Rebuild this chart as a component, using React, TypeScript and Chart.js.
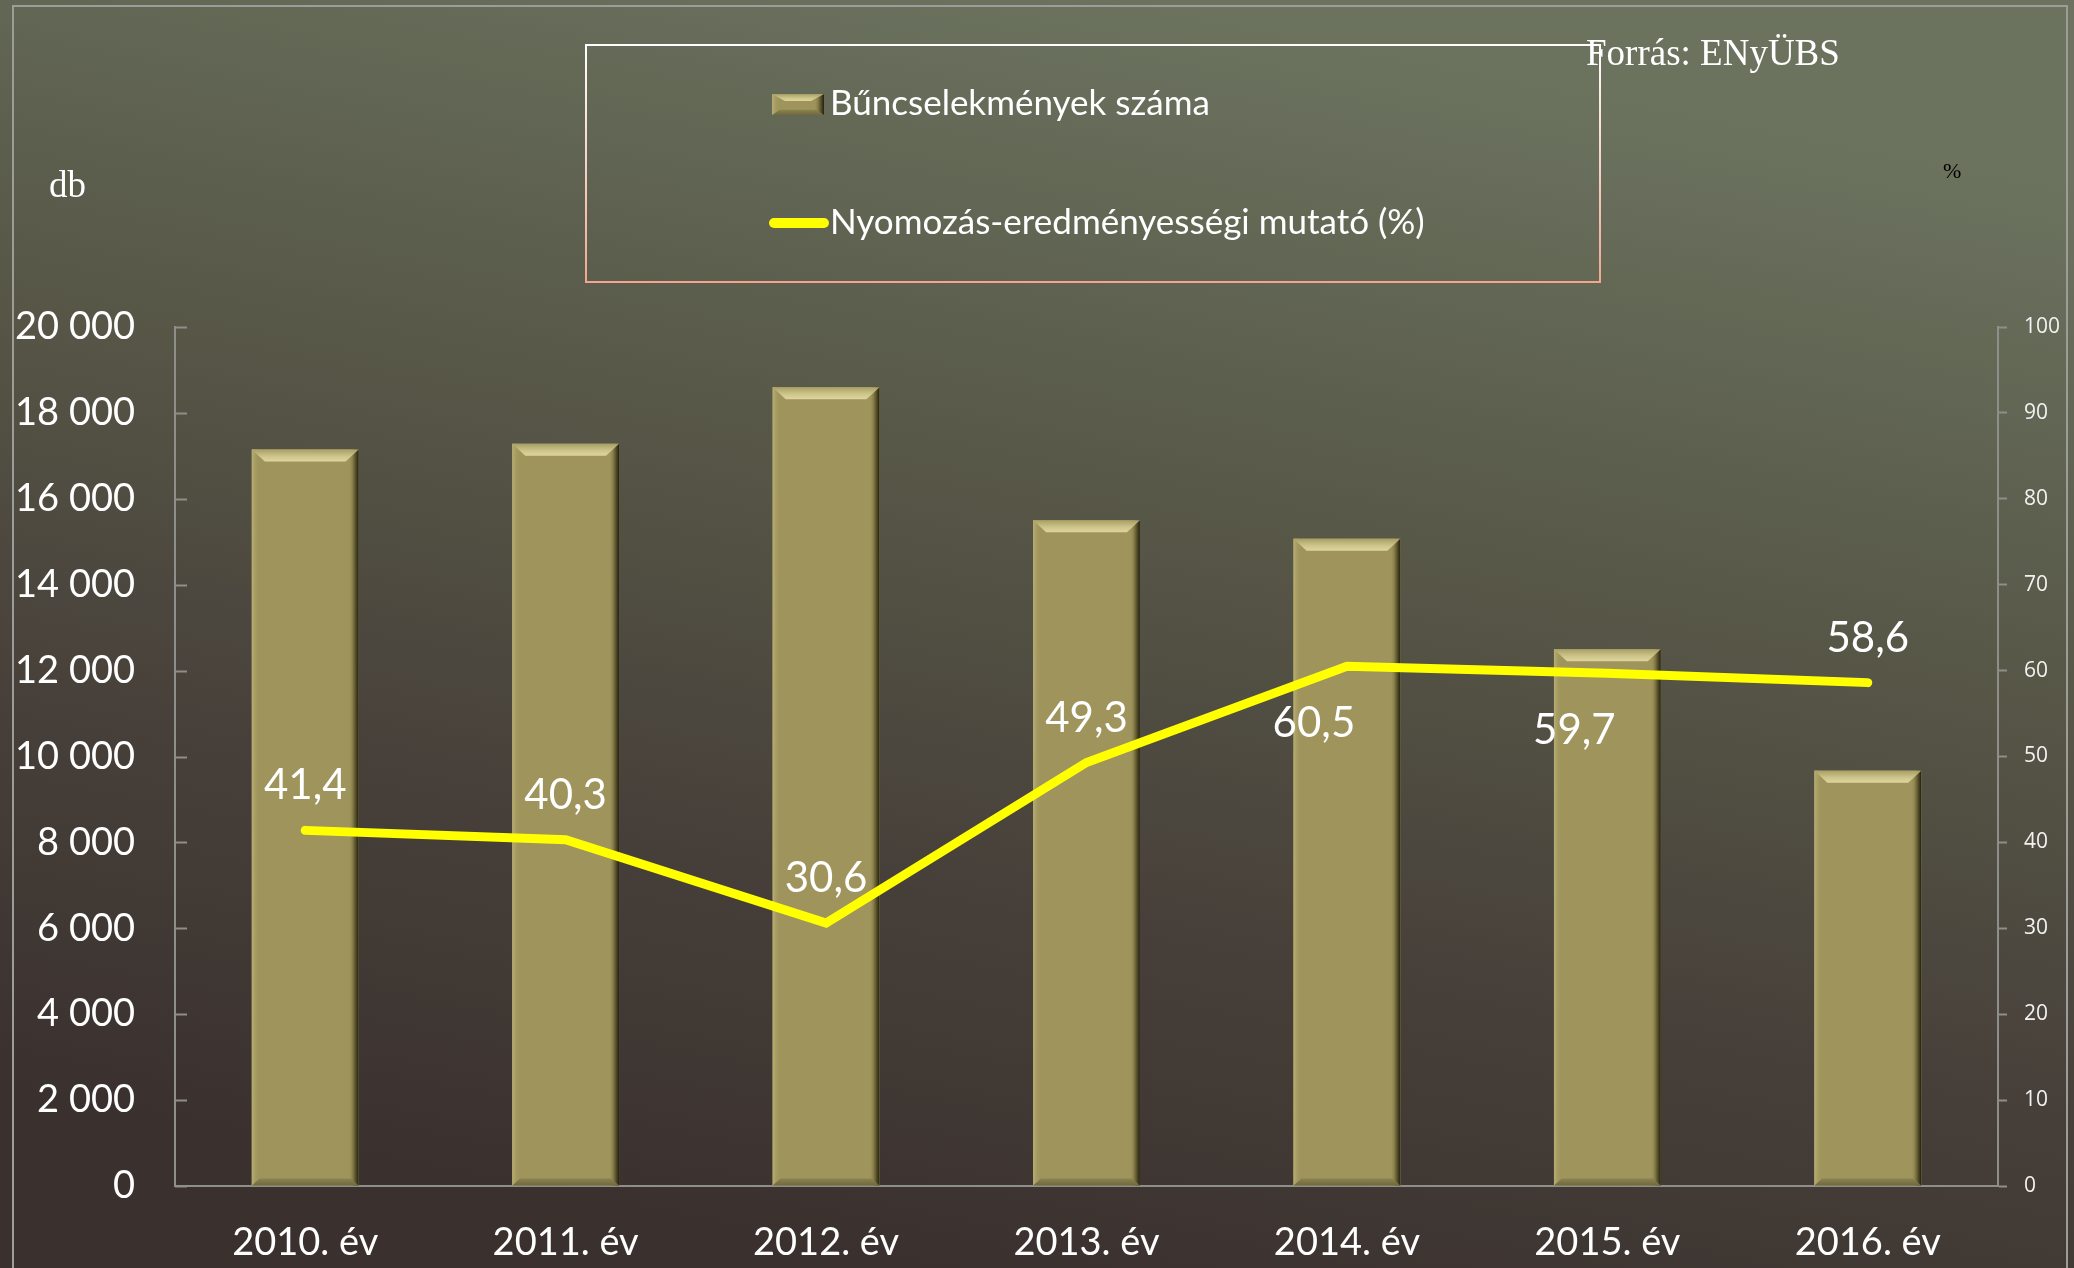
import React, { useEffect, useRef } from "react";
import { Chart, registerables } from "chart.js";

Chart.register(...registerables);

const categories = ["2010. év", "2011. év", "2012. év", "2013. év", "2014. év", "2015. év", "2016. év"];
const crimeCounts = [17150, 17280, 18600, 15500, 15070, 12500, 9670];
const clearanceRates = [41.4, 40.3, 30.6, 49.3, 60.5, 59.7, 58.6];
const seriesNames = ["Bűncselekmények száma", "Nyomozás-eredményességi mutató (%)"];
const leftAxisMax = 20000;
const leftAxisStep = 2000;
const rightAxisMax = 100;
const rightAxisStep = 10;
const sourceText = "Forrás: ENyÜBS";
const leftUnit = "db";
const rightUnit = "%";
const labelSides = ["above", "above", "above", "above", "below", "below", "above"];

const W = 2074;
const H = 1268;

function fmtThousands(v: number): string {
  return String(v).replace(/\B(?=(\d{3})+(?!\d))/g, " ");
}
function fmtRate(v: number): string {
  return v.toFixed(1).replace(".", ",");
}

function drawBevelBar(ctx: CanvasRenderingContext2D, left: number, top: number, right: number, bottom: number) {
  const w = right - left;
  const h = bottom - top;
  if (h <= 0) return;
  const bev = Math.min(12, h / 3);
  const inset = Math.min(13, w / 4);
  ctx.save();
  ctx.fillStyle = "#9e945c";
  ctx.fillRect(left, top, w, h);
  let g = ctx.createLinearGradient(left, 0, left + 8, 0);
  g.addColorStop(0, "#b9ae72");
  g.addColorStop(1, "rgba(158,148,92,0)");
  ctx.fillStyle = g;
  ctx.fillRect(left, top, 8, h);
  g = ctx.createLinearGradient(right - 10, 0, right, 0);
  g.addColorStop(0, "rgba(158,148,92,0)");
  g.addColorStop(0.55, "#6e6638");
  g.addColorStop(1, "#23200f");
  ctx.fillStyle = g;
  ctx.fillRect(right - 10, top, 10, h);
  ctx.beginPath();
  ctx.moveTo(left, top);
  ctx.lineTo(right, top);
  ctx.lineTo(right - inset, top + bev);
  ctx.lineTo(left + inset, top + bev);
  ctx.closePath();
  g = ctx.createLinearGradient(0, top, 0, top + bev);
  g.addColorStop(0, "#a89f66");
  g.addColorStop(0.6, "#cfc68c");
  g.addColorStop(1, "#ddd59c");
  ctx.fillStyle = g;
  ctx.fill();
  const bb = Math.min(7, h / 4);
  ctx.beginPath();
  ctx.moveTo(left, bottom);
  ctx.lineTo(right, bottom);
  ctx.lineTo(right - inset * 0.6, bottom - bb);
  ctx.lineTo(left + inset * 0.6, bottom - bb);
  ctx.closePath();
  g = ctx.createLinearGradient(0, bottom - bb, 0, bottom);
  g.addColorStop(0, "#8c834f");
  g.addColorStop(1, "#6f6840");
  ctx.fillStyle = g;
  ctx.fill();
  ctx.restore();
}

const bgPlugin = {
  id: "bg",
  beforeDraw(chart: any) {
    const ctx = chart.ctx as CanvasRenderingContext2D;
    ctx.save();
    const g = ctx.createLinearGradient(1150, 0, 900, H);
    g.addColorStop(0, "#6b735f");
    g.addColorStop(0.33, "#5a5b4a");
    g.addColorStop(0.7, "#47403a");
    g.addColorStop(1, "#3a312e");
    ctx.fillStyle = g;
    ctx.fillRect(0, 0, W, H);
    ctx.strokeStyle = "#9c9c99";
    ctx.lineWidth = 2;
    ctx.strokeRect(13, 6, 2067 - 13, H + 20);
    ctx.restore();
  },
};

const barBevelPlugin = {
  id: "barBevel",
  afterDatasetDraw(chart: any, args: any) {
    if (args.index !== 0) return;
    const ctx = chart.ctx as CanvasRenderingContext2D;
    const meta = chart.getDatasetMeta(0);
    meta.data.forEach((el: any) => {
      const p = el.getProps(["x", "y", "width", "base"], true);
      drawBevelBar(ctx, p.x - p.width / 2, p.y, p.x + p.width / 2, p.base);
    });
  },
};

const overlayPlugin = {
  id: "overlay",
  afterDatasetsDraw(chart: any) {
    const ctx = chart.ctx as CanvasRenderingContext2D;
    const meta = chart.getDatasetMeta(1);
    ctx.save();
    ctx.fillStyle = "#ffffff";
    ctx.font = "42px Lato";
    ctx.textAlign = "center";
    ctx.textBaseline = "alphabetic";
    meta.data.forEach((el: any, i: number) => {
      const side = labelSides[i];
      const dx = side === "below" ? -33 : 0;
      const dy = side === "below" ? 56 : -46;
      ctx.fillText(fmtRate(clearanceRates[i]), el.x + dx, el.y + dy + 15);
    });
    ctx.restore();
  },
  afterDraw(chart: any) {
    const ctx = chart.ctx as CanvasRenderingContext2D;
    const area = chart.chartArea;
    const ys = chart.scales.y;
    ctx.save();
    ctx.strokeStyle = "#8e8e8a";
    ctx.lineWidth = 2;
    ys.ticks.forEach((t: any) => {
      const py = Math.round(ys.getPixelForValue(t.value)) + 0.5;
      ctx.beginPath();
      ctx.moveTo(area.left, py);
      ctx.lineTo(area.left + 12, py);
      ctx.stroke();
    });
    const lg = ctx.createLinearGradient(0, 45, 0, 282);
    lg.addColorStop(0, "#ffffff");
    lg.addColorStop(1, "#f2a590");
    ctx.strokeStyle = lg;
    ctx.lineWidth = 2;
    ctx.strokeRect(586, 45, 1600 - 586, 282 - 45);
    drawBevelBar(ctx, 772, 94, 824, 115);
    ctx.strokeStyle = "#ffff00";
    ctx.lineWidth = 10;
    ctx.lineCap = "round";
    ctx.beginPath();
    ctx.moveTo(774, 223);
    ctx.lineTo(824, 223);
    ctx.stroke();
    ctx.fillStyle = "#ffffff";
    ctx.font = "35px Lato";
    ctx.textAlign = "left";
    ctx.textBaseline = "alphabetic";
    ctx.fillText(chart.data.datasets[0].label, 830, 115);
    ctx.fillText(chart.data.datasets[1].label, 830, 234);
    ctx.font = "37px 'Liberation Serif'";
    ctx.fillText(sourceText, 1586, 65);
    ctx.font = "37px 'Liberation Serif'";
    ctx.fillText(leftUnit, 49, 197);
    ctx.fillStyle = "#000000";
    ctx.font = "22px 'Liberation Serif'";
    ctx.fillText(rightUnit, 1943, 178);
    ctx.restore();
  },
};

export default function App() {
  const ref = useRef<HTMLCanvasElement | null>(null);
  useEffect(() => {
    const canvas = ref.current;
    if (!canvas) return;
    const chart = new Chart(canvas, {
      type: "bar",
      data: {
        labels: categories,
        datasets: [
          {
            type: "bar",
            label: seriesNames[0],
            data: crimeCounts,
            yAxisID: "y",
            backgroundColor: "#9e945c",
            borderWidth: 0,
            barPercentage: 0.41,
            categoryPercentage: 1,
            order: 2,
          } as any,
          {
            type: "line",
            label: seriesNames[1],
            data: clearanceRates,
            yAxisID: "y1",
            borderColor: "#ffff00",
            borderWidth: 9,
            pointRadius: 0,
            borderCapStyle: "round",
            borderJoinStyle: "miter",
            tension: 0,
            order: 1,
          } as any,
        ],
      },
      options: {
        responsive: false,
        animation: false,
        devicePixelRatio: 1,
        layout: { padding: { top: 327, left: 0, right: 0, bottom: 0 } },
        plugins: {
          legend: { display: false },
          tooltip: { enabled: false },
          title: { display: false },
        },
        scales: {
          x: {
            grid: { display: true, drawOnChartArea: false, drawTicks: false },
            border: { display: true, color: "#8e8e8a", width: 2 },
            ticks: { color: "#ffffff", font: { family: "Lato", size: 38 }, padding: 34, maxRotation: 0 },
            afterFit: (s: any) => {
              s.height = 82;
            },
          },
          y: {
            position: "left",
            min: 0,
            max: leftAxisMax,
            ticks: {
              stepSize: leftAxisStep,
              color: "#ffffff",
              font: { family: "Lato", size: 38 },
              padding: 40,
              callback: (v: any) => fmtThousands(Number(v)),
            },
            grid: { drawOnChartArea: false, drawTicks: false },
            border: { display: true, color: "#8e8e8a", width: 2 },
            afterFit: (s: any) => {
              s.width = 175;
            },
          },
          y1: {
            position: "right",
            min: 0,
            max: rightAxisMax,
            ticks: {
              stepSize: rightAxisStep,
              color: "#f2f2f2",
              font: { family: "Open Sans", size: 21 },
              padding: 17,
            },
            grid: { drawOnChartArea: false, drawTicks: true, tickLength: 9, tickColor: "#8e8e8a", tickWidth: 2 },
            border: { display: true, color: "#8e8e8a", width: 2 },
            afterFit: (s: any) => {
              s.width = 76;
            },
          },
        },
      } as any,
      plugins: [bgPlugin, barBevelPlugin, overlayPlugin],
    });
    return () => chart.destroy();
  }, []);
  return (
    <div style={{ position: "fixed", left: 0, top: 0, width: W, height: H, overflow: "hidden" }}>
      <canvas ref={ref} width={W} height={H} style={{ display: "block", width: W, height: H }} />
    </div>
  );
}
